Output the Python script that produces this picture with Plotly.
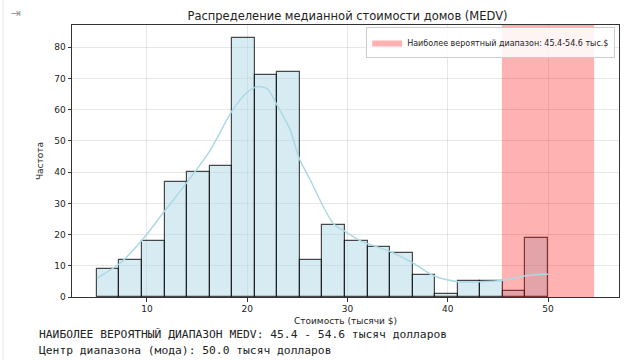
import plotly.graph_objects as go

# ---- data ----
bin_start = 5.0
bin_width = 2.25
counts = [9, 12, 18, 37, 40, 42, 83, 71, 72, 12, 23, 18, 16, 14, 7, 1, 5, 5, 2, 19]

kde_x = [5.0, 7.3, 9.5, 11.7, 14.0, 16.3, 18.5, 20.0, 21.0, 22.0, 23.0, 24.3, 25.2, 26.3,
         27.6, 28.6, 29.8, 31.3, 34.3, 36.6, 38.6, 41.0, 43.3, 45.5, 47.6, 49.3, 50.0]
kde_y = [6.0, 10.8, 18.2, 27.3, 36.8, 47.0, 59.7, 65.6, 67.4, 66.7, 61.3, 53.4, 44.3, 37.4,
         28.9, 23.5, 20.9, 18.0, 14.5, 10.8, 6.8, 4.9, 4.9, 5.4, 6.7, 7.3, 7.3]

range_low = 45.4
range_high = 54.6
mode_value = 50.0

x_ticks = [10, 20, 30, 40, 50]
y_ticks = [0, 10, 20, 30, 40, 50, 60, 70, 80]

title = "Распределение медианной стоимости домов (MEDV)"
xlabel = "Стоимость (тысячи $)"
ylabel = "Частота"
legend_label = f"Наиболее вероятный диапазон: {range_low}-{range_high} тыс.$"
line1 = f"НАИБОЛЕЕ ВЕРОЯТНЫЙ ДИАПАЗОН MEDV: {range_low} - {range_high} тысяч долларов"
line2 = f"Центр диапазона (мода): {mode_value} тысяч долларов"

# ---- derived ----
centers = [bin_start + bin_width * (i + 0.5) for i in range(len(counts))]
x_min = min(bin_start, range_low)
x_max = max(bin_start + bin_width * len(counts), range_high)
pad = (x_max - x_min) * 0.05
y_top = max(counts) * 1.05

FONT = "DejaVu Sans"
fig = go.Figure()

fig.add_trace(go.Bar(
    x=centers, y=counts, width=[bin_width] * len(counts),
    marker=dict(color="rgba(173,216,230,0.5)",
                line=dict(color="rgba(0,0,0,0.7)", width=1.2)),
    showlegend=False, hoverinfo="skip",
))

fig.add_trace(go.Scatter(
    x=[range_low, range_low, range_high, range_high, range_low],
    y=[0, y_top, y_top, 0, 0],
    fill="toself", fillcolor="rgba(255,0,0,0.3)",
    mode="lines", line=dict(width=0, color="rgba(255,0,0,0.3)"),
    name=legend_label, showlegend=True, hoverinfo="skip",
))

fig.add_trace(go.Scatter(
    x=kde_x, y=kde_y, mode="lines",
    line=dict(color="#add8e6", width=1.5, shape="spline", smoothing=0.8),
    showlegend=False, hoverinfo="skip",
))

axis_common = dict(
    showline=True, linecolor="#333333", linewidth=1, mirror=True,
    ticks="outside", ticklen=3.5, tickcolor="#333333", tickwidth=0.8,
    showgrid=True, gridcolor="rgba(176,176,176,0.3)", gridwidth=0.8,
    zeroline=False, automargin=False,
    tickfont=dict(family=FONT, size=9, color="#222"),
)

fig.update_xaxes(range=[x_min - pad, x_max + pad], tickvals=x_ticks,
                 title=dict(text=xlabel, font=dict(family=FONT, size=9, color="#222"), standoff=4),
                 **axis_common)
fig.update_yaxes(range=[0, y_top], tickvals=y_ticks,
                 title=dict(text=ylabel, font=dict(family=FONT, size=9, color="#222"), standoff=9),
                 **axis_common)

fig.update_layout(
    width=624, height=360,
    margin=dict(l=72, r=5, t=25, b=63, autoexpand=False),
    paper_bgcolor="white", plot_bgcolor="white",
    barmode="overlay", bargap=0,
    title=dict(text=title, x=(211 + 484) / 2 / 624, xanchor="center", y=1 - 16 / 360, yanchor="middle",
               font=dict(family=FONT, size=11.5, color="#222")),
    legend=dict(x=0.993, y=0.993, xanchor="right", yanchor="top",
                bgcolor="rgba(255,255,255,0.85)", bordercolor="#cccccc", borderwidth=1,
                font=dict(family=FONT, size=8, color="#222"),
                itemwidth=30, tracegroupgap=0),
    font=dict(family=FONT),
)

# text output under the chart
fig.add_annotation(text=line1, xref="paper", yref="paper", x=(37 - 72) / 547, y=(297 - 334) / 272,
                   xanchor="left", yanchor="middle", showarrow=False,
                   font=dict(family="DejaVu Sans Mono", size=11.3, color="#222"))
fig.add_annotation(text=line2, xref="paper", yref="paper", x=(37 - 72) / 547, y=(297 - 350) / 272,
                   xanchor="left", yanchor="middle", showarrow=False,
                   font=dict(family="DejaVu Sans Mono", size=11.3, color="#222"))

# notebook output icon at top-left
fig.add_annotation(text="⇥", xref="paper", yref="paper", x=(16 - 72) / 547, y=1 + (25 - 13) / 272,
                   xanchor="center", yanchor="middle", showarrow=False,
                   font=dict(family=FONT, size=12, color="#9a9a9a"))

# faint notebook border on the left
fig.add_shape(type="line", xref="paper", yref="paper", x0=(3 - 72) / 547, x1=(3 - 72) / 547,
              y0=-63 / 272, y1=1 + 25 / 272, line=dict(color="#e6e6e6", width=1))

fig.write_html("out.html", config={"displayModeBar": False},
               post_script="document.body.style.margin='0';document.body.style.overflow='hidden';")
